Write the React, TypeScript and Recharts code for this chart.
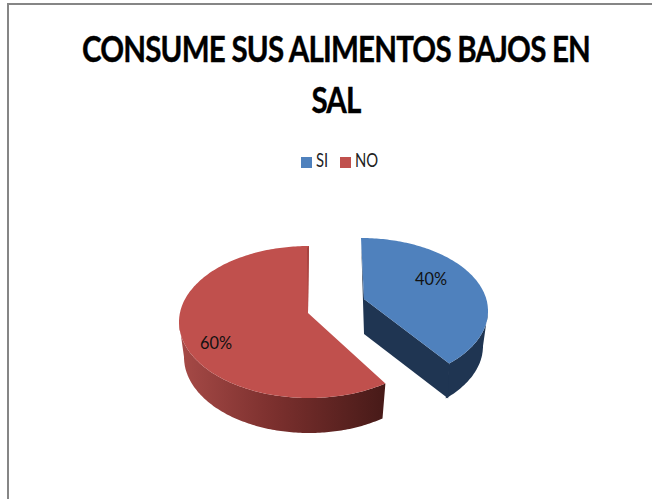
import React from 'react';
import { PieChart, Pie, Legend } from 'recharts';

const categories = ['SI', 'NO'];
const shares = [40, 60];
const colors = ['#4f81bd', '#c0504d'];

const pieData = categories.map((name, i) => ({ name, value: shares[i], fill: colors[i] }));

const RAD = Math.PI / 180;
const DEPTH = 35;

// the 3D look: each slice gets its own squashed ellipse, offset from the pie centre
const sliceLook = [
    { dx: 52, dy: -11, rx: 127, ry: 73, apexDx: 3, apexDy: -12, endShift: -8, wallFrom: 90, labelDx: 70, labelDy: -33 },
    { dx: 0, dy: 0, rx: 130, ry: 76, apexDx: -1, apexDy: -9, endShift: 0, wallFrom: 270, labelDx: -93, labelDy: 20 },
];

const ell = (cx: number, cy: number, rx: number, ry: number, t: number) => [
    cx + rx * Math.sin(t * RAD),
    cy - ry * Math.cos(t * RAD),
];

const arc = (cx: number, cy: number, rx: number, ry: number, from: number, to: number) => {
    const pts = [];
    const steps = Math.ceil(Math.abs(to - from));
    for (let i = 0; i <= steps; i++) {
        pts.push(ell(cx, cy, rx, ry, from + ((to - from) * i) / steps));
    }
    return pts;
};

const toPath = (pts: number[][]) =>
    'M' + pts.map((p) => `${p[0].toFixed(1)},${p[1].toFixed(1)}`).join('L') + 'Z';

const Slice3D = (props: any) => {
    const { cx, cy, startAngle, endAngle, index, fill } = props;
    const look = sliceLook[index];
    const x = cx + look.dx;
    const y = cy + look.dy;
    const t0 = 90 - startAngle + (index === 1 ? look.endShift : 0);
    const t1 = 90 - endAngle + (index === 0 ? look.endShift : 0);
    const apex = [x + look.apexDx, y + look.apexDy];
    const face = [apex, ...arc(x, y, look.rx, look.ry, t0, t1)];

    // outer wall, drawn under the face
    const wallEnd = index === 0 ? t1 : t0;
    const wall = [
        ...arc(x, y, look.rx, look.ry, look.wallFrom, wallEnd),
        ...arc(x, y + DEPTH, look.rx - 5, look.ry, wallEnd, look.wallFrom),
    ];

    const tip = ell(x, y, look.rx, look.ry, t1);
    const top = ell(x, y, look.rx, look.ry, t0);

    if (index === 0) {
        const cut = [apex, tip, [tip[0] - 1, tip[1] + DEPTH], [apex[0], apex[1] + DEPTH]];
        const sliver = [top, [apex[0], apex[1] + DEPTH], apex];
        return (
            <g>
                <path d={toPath(wall)} fill="#1f3552" />
                <path d={toPath(cut)} fill="#1f3552" />
                <path d={toPath(sliver)} fill="#1f3552" />
                <path d={toPath(face)} fill={fill} />
            </g>
        );
    }

    const endTop = ell(x, y, look.rx, look.ry, t1);
    const sliver = [endTop, apex, [endTop[0] - 2, endTop[1] + 2]];
    return (
        <g>
            <defs>
                <linearGradient id="redWall" gradientUnits="userSpaceOnUse" x1="180" y1="0" x2="385" y2="0">
                    <stop offset="0%" stopColor="#a64a47" />
                    <stop offset="45%" stopColor="#7c302e" />
                    <stop offset="100%" stopColor="#471a18" />
                </linearGradient>
            </defs>
            <path d={toPath(wall)} fill="url(#redWall)" />
            <path d={toPath(face)} fill={fill} />
            <path d={toPath(sliver)} fill="#a5423f" />
        </g>
    );
};

const renderLabel = (props: any) => {
    const { cx, cy, index, value } = props;
    const look = sliceLook[index];
    return (
        <text
            x={cx + look.dx + look.labelDx}
            y={cy + look.dy + look.labelDy}
            textAnchor="middle"
            dominantBaseline="central"
            fontFamily="Lato, sans-serif"
            fontSize={18}
            textLength={32}
            lengthAdjust="spacingAndGlyphs"
            fill="#111"
        >
            {`${value}%`}
        </text>
    );
};

const legendText = (v: string) => (
    <span
        style={{
            color: '#222',
            display: 'inline-block',
            transform: 'scaleX(0.78)',
            transformOrigin: 'left',
            marginRight: v === 'NO' ? -7 : -2,
        }}
    >
        {v}
    </span>
);

const App = () => {
    return (
        <div style={{ position: 'absolute', left: 0, top: 0, width: 652, height: 499, background: '#fff', overflow: 'hidden' }}>
            <div
                style={{
                    position: 'absolute',
                    left: 7,
                    top: 3,
                    width: 645,
                    height: 496,
                    borderTop: '2px solid #868686',
                    borderLeft: '2px solid #868686',
                }}
            />
            <div
                style={{
                    position: 'absolute',
                    left: 0,
                    top: 22,
                    width: 672,
                    textAlign: 'center',
                    fontFamily: 'Lato, sans-serif',
                    fontWeight: 700,
                    fontSize: 37,
                    lineHeight: '51px',
                    color: '#000',
                    letterSpacing: -1,
                    WebkitTextStroke: '0.4px #000',
                    transform: 'scaleX(0.798)',
                }}
            >
                CONSUME SUS ALIMENTOS BAJOS EN
                <br />
                SAL
            </div>
            <PieChart width={652} height={499} style={{ position: 'absolute', left: 0, top: 0 }}>
                <Legend
                    verticalAlign="top"
                    align="center"
                    iconType="square"
                    iconSize={11}
                    itemSorter={(item: any) => categories.indexOf(item.value)}
                    formatter={legendText}
                    wrapperStyle={{ top: 148, left: 0, width: 689, fontFamily: 'Lato, sans-serif', fontSize: 19 }}
                />
                <Pie
                    data={pieData}
                    dataKey="value"
                    nameKey="name"
                    cx={304}
                    cy={294}
                    outerRadius={130}
                    startAngle={90}
                    endAngle={-270}
                    stroke="none"
                    shape={Slice3D}
                    label={renderLabel}
                    labelLine={false}
                    isAnimationActive={false}
                />
            </PieChart>
        </div>
    );
};

export default App;
